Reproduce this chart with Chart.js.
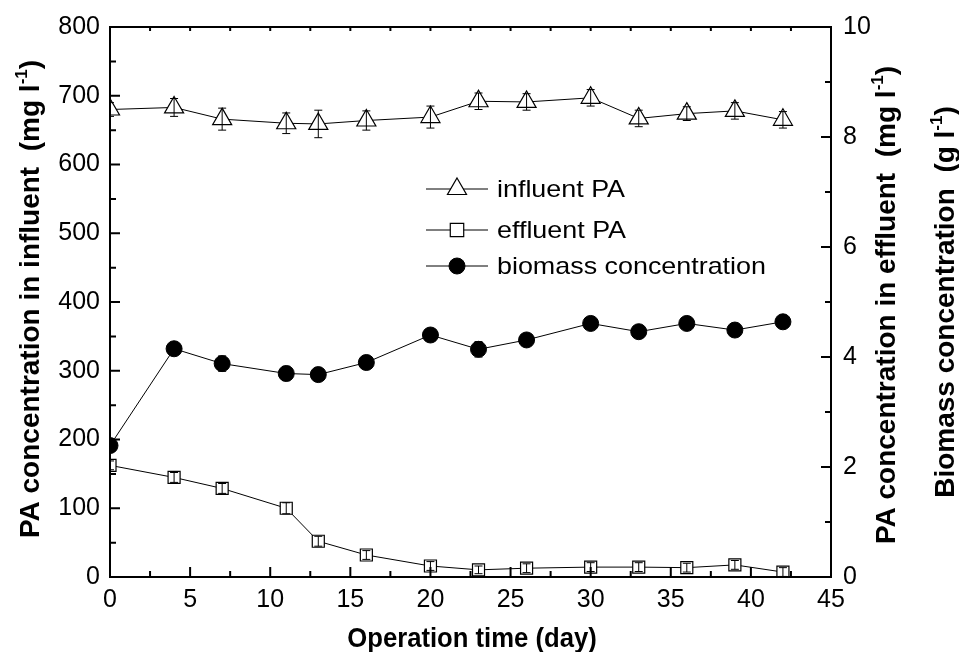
<!DOCTYPE html>
<html>
<head>
<meta charset="utf-8">
<script src="https://cdn.jsdelivr.net/npm/chart.js@4.4.0/dist/chart.umd.min.js"></script>
<style>
  html, body { margin: 0; padding: 0; background: #fff; }
</style>
</head>
<body>
<canvas id="pa-chart" width="959" height="652"></canvas>
<script>
// operation days
const days = [0, 4, 7, 11, 13, 16, 20, 23, 26, 30, 33, 36, 39, 42];
// influent PA, mg/l (left axis)
const influentPA = [680, 683, 666, 660, 659, 664, 669, 692, 691, 697, 667, 674, 678, 665];
const influentErr = [10, 13, 16, 15, 20, 14, 16, 12, 12, 12, 12, 10, 12, 12];
// effluent PA, mg/l (right axis)
const effluentPA = [2.03, 1.81, 1.61, 1.25, 0.65, 0.40, 0.20, 0.13, 0.16, 0.18, 0.18, 0.17, 0.22, 0.09];
const effluentErr = [0.08, 0.09, 0.09, 0.1, 0.09, 0.08, 0.08, 0.07, 0.08, 0.08, 0.08, 0.08, 0.08, 0.08];
// biomass, g/l (right axis)
const biomass = [2.39, 4.15, 3.88, 3.70, 3.68, 3.90, 4.40, 4.14, 4.31, 4.61, 4.46, 4.61, 4.49, 4.64];
const biomassErr = [0.08, 0.1, 0.14, 0.13, 0.1, 0.1, 0.1, 0.14, 0.1, 0.1, 0.1, 0.1, 0.1, 0.1];

const seriesNames = ['influent PA', 'effluent PA', 'biomass concentration'];

const FONT = '"Liberation Sans", Arial, sans-serif';
Chart.defaults.font.family = FONT;
Chart.defaults.color = '#000';

const toPoints = vals => vals.map((v, i) => ({ x: days[i], y: v }));

// frame with inward major/minor ticks on all four sides
const frameTicks = {
  id: 'frameTicks',
  afterDraw(chart) {
    const { ctx, chartArea: a, scales } = chart;
    ctx.save();
    ctx.strokeStyle = '#000';
    ctx.lineWidth = 2;
    ctx.strokeRect(a.left, a.top, a.right - a.left, a.bottom - a.top);
    ctx.beginPath();
    for (let v = 0; v <= 45; v += 2.5) {
      const px = scales.x.getPixelForValue(v);
      const len = v % 5 === 0 ? 10 : 6;
      ctx.moveTo(px, a.bottom); ctx.lineTo(px, a.bottom - len);
      ctx.moveTo(px, a.top); ctx.lineTo(px, a.top + 4);
    }
    for (let v = 0; v <= 800; v += 50) {
      const py = scales.y.getPixelForValue(v);
      ctx.moveTo(a.left, py); ctx.lineTo(a.left + (v % 100 === 0 ? 10 : 6), py);
    }
    for (let v = 0; v <= 10; v += 1) {
      const py = scales.y2.getPixelForValue(v);
      ctx.moveTo(a.right, py); ctx.lineTo(a.right - (v % 2 === 0 ? 10 : 6), py);
    }
    ctx.stroke();
    ctx.restore();
  }
};

// vertical error bars with caps
const errorBars = {
  id: 'errorBars',
  afterDatasetsDraw(chart) {
    const { ctx, chartArea: a } = chart;
    const errs = [influentErr, effluentErr, biomassErr];
    ctx.save();
    ctx.beginPath();
    ctx.rect(a.left, a.top, a.right - a.left, a.bottom - a.top);
    ctx.clip();
    ctx.strokeStyle = '#000';
    ctx.lineWidth = 1;
    chart.data.datasets.forEach((ds, di) => {
      const ys = chart.scales[ds.yAxisID];
      ds.data.forEach((p, i) => {
        const px = chart.scales.x.getPixelForValue(p.x);
        const hi = ys.getPixelForValue(p.y + errs[di][i]);
        const lo = ys.getPixelForValue(p.y - errs[di][i]);
        ctx.beginPath();
        ctx.moveTo(px, hi); ctx.lineTo(px, lo);
        ctx.moveTo(px - 4, hi); ctx.lineTo(px + 4, hi);
        ctx.moveTo(px - 4, lo); ctx.lineTo(px + 4, lo);
        ctx.stroke();
      });
    });
    ctx.restore();
  }
};

// legend inside the plot: line - marker - line, then the name
const legendBox = {
  id: 'legendBox',
  afterDraw(chart) {
    const { ctx } = chart;
    const rows = [189, 230, 266];
    ctx.save();
    chart.data.datasets.forEach((ds, i) => {
      const y = rows[i];
      ctx.strokeStyle = '#000';
      ctx.lineWidth = 1;
      ctx.beginPath();
      ctx.moveTo(426, y); ctx.lineTo(488, y);
      ctx.stroke();
      ctx.fillStyle = ds.pointBackgroundColor;
      ctx.strokeStyle = '#000';
      ctx.lineWidth = ds.pointBorderWidth;
      Chart.helpers.drawPoint(ctx, {
        pointStyle: ds.pointStyle, radius: ds.legendRadius, rotation: 0, borderWidth: ds.pointBorderWidth
      }, 457, y);
      ctx.save();
      ctx.translate(497, y + 1);
      ctx.scale(1.12, 1);
      ctx.fillStyle = '#000';
      ctx.font = '24px ' + FONT;
      ctx.textBaseline = 'middle';
      ctx.textAlign = 'left';
      ctx.fillText(ds.label, 0, 0);
      ctx.restore();
    });
    ctx.restore();
  }
};

// bold axis title with a superscript exponent; (cx, cy) is the centre of the capitals
function richTitle(ctx, parts, cx, cy, angle, size, sx) {
  const big = 'bold ' + size + 'px ' + FONT;
  const small = 'bold ' + Math.round(size * 0.62) + 'px ' + FONT;
  let total = 0;
  parts.forEach(p => { ctx.font = p.sup ? small : big; total += ctx.measureText(p.t).width; });
  ctx.save();
  ctx.translate(cx, cy);
  ctx.rotate(angle);
  ctx.scale(sx, 1);
  ctx.fillStyle = '#000';
  ctx.textBaseline = 'alphabetic';
  ctx.textAlign = 'left';
  const base = size * 0.36;
  let x = -total / 2;
  parts.forEach(p => {
    ctx.font = p.sup ? small : big;
    ctx.fillText(p.t, x, p.sup ? base - size * 0.42 : base);
    x += ctx.measureText(p.t).width;
  });
  ctx.restore();
}

const axisTitles = {
  id: 'axisTitles',
  afterDraw(chart) {
    const { ctx } = chart;
    richTitle(ctx, [{ t: 'Operation time (day)' }], 472, 637, 0, 27, 0.95);
    richTitle(ctx, [{ t: 'PA concentration in influent  (mg l' }, { t: '-1', sup: true }, { t: ')' }], 29, 299, -Math.PI / 2, 28, 1);
    richTitle(ctx, [{ t: 'PA concentration in effluent  (mg l' }, { t: '-1', sup: true }, { t: ')' }], 885, 305, -Math.PI / 2, 28, 1);
    richTitle(ctx, [{ t: 'Biomass concentration  (g l' }, { t: '-1', sup: true }, { t: ')' }], 944, 302, -Math.PI / 2, 28, 1);
  }
};

const tickFont = { size: 25, family: FONT };

new Chart(document.getElementById('pa-chart'), {
  type: 'line',
  data: {
    datasets: [
      {
        label: seriesNames[0], data: toPoints(influentPA), yAxisID: 'y',
        pointStyle: 'triangle', pointRadius: 11, legendRadius: 11,
        pointBackgroundColor: '#fff', pointBorderColor: '#000', pointBorderWidth: 1.2,
        borderColor: '#000', borderWidth: 1, tension: 0
      },
      {
        label: seriesNames[1], data: toPoints(effluentPA), yAxisID: 'y2',
        pointStyle: 'rect', pointRadius: 8.5, legendRadius: 9.5,
        pointBackgroundColor: '#fff', pointBorderColor: '#000', pointBorderWidth: 1.2,
        borderColor: '#000', borderWidth: 1, tension: 0
      },
      {
        label: seriesNames[2], data: toPoints(biomass), yAxisID: 'y2',
        pointStyle: 'circle', pointRadius: 8, legendRadius: 8,
        pointBackgroundColor: '#000', pointBorderColor: '#000', pointBorderWidth: 1,
        borderColor: '#000', borderWidth: 1, tension: 0
      }
    ]
  },
  options: {
    responsive: false,
    animation: false,
    layout: { padding: { top: 25, left: 0, right: 0, bottom: 0 } },
    plugins: { legend: { display: false }, tooltip: { enabled: false } },
    scales: {
      x: {
        type: 'linear', min: 0, max: 45,
        ticks: { stepSize: 5, font: tickFont, padding: 8, maxRotation: 0 },
        grid: { display: false, drawTicks: false },
        border: { display: false },
        afterFit(s) { s.height = 75; }
      },
      y: {
        position: 'left', min: 0, max: 800,
        ticks: { stepSize: 100, font: tickFont, padding: 10 },
        grid: { display: false, drawTicks: false },
        border: { display: false },
        afterFit(s) { s.width = 110; }
      },
      y2: {
        position: 'right', min: 0, max: 10,
        ticks: { stepSize: 2, font: tickFont, padding: 12 },
        grid: { display: false, drawTicks: false },
        border: { display: false },
        afterFit(s) { s.width = 128; }
      }
    }
  },
  plugins: [errorBars, frameTicks, legendBox, axisTitles]
});
</script>
</body>
</html>
